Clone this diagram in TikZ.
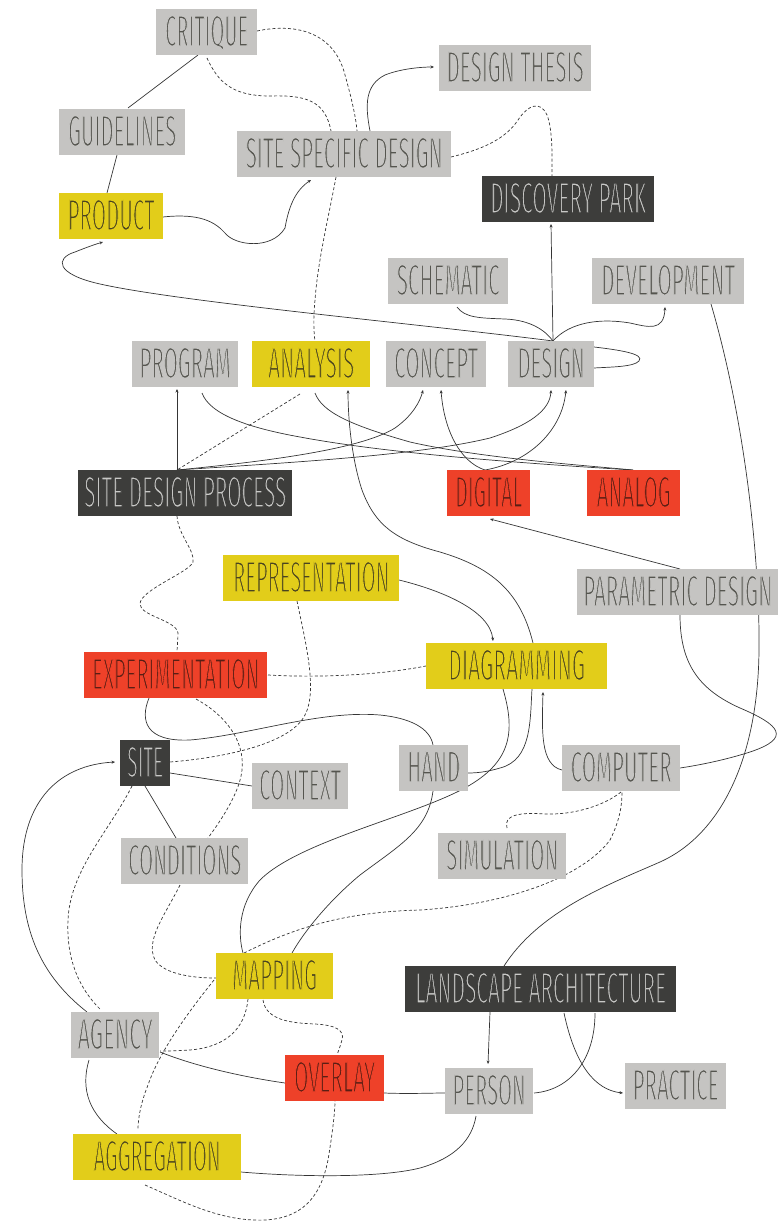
\documentclass[tikz,border=0pt]{standalone}
\usepackage{graphicx}
\usepackage{fontspec}
\usetikzlibrary{arrows.meta}
\newfontfamily\labfont{Fira Sans}
\definecolor{boxgray}{HTML}{C5C4C2}
\definecolor{boxyel}{HTML}{E2CD1A}
\definecolor{boxred}{HTML}{EE4129}
\definecolor{boxdark}{HTML}{3D3D3B}
\definecolor{txgray}{HTML}{55554F}
\definecolor{txyel}{HTML}{4A4420}
\definecolor{txred}{HTML}{5A1E14}
\definecolor{txdark}{HTML}{C8C8C6}
\definecolor{linec}{HTML}{353535}
\def\bgrgb{0.773 0.769 0.761}
\newcommand\lbl[2]{\resizebox{#1pt}{31pt}{\special{pdf:literal direct 2 Tr 0.42 w \bgrgb\space RG}\labfont #2\special{pdf:literal direct 0 Tr}}}
\pgfdeclarelayer{bg}
\pgfsetlayers{bg,main}
\tikzset{
  nd/.style={rectangle, inner sep=0pt, minimum height=46pt, anchor=north west, text height=31pt, text depth=3pt},
  gbox/.style={nd, fill=boxgray, text=txgray, execute at begin node={\def\bgrgb{0.773 0.769 0.761}}},
  ybox/.style={nd, fill=boxyel, text=txyel, execute at begin node={\def\bgrgb{0.886 0.804 0.102}}},
  rbox/.style={nd, fill=boxred, text=txred, execute at begin node={\def\bgrgb{0.933 0.255 0.161}}},
  dbox/.style={nd, fill=boxdark, text=txdark, execute at begin node={\def\bgrgb{0.239 0.239 0.231}}},
  con/.style={draw=linec, line width=0.7pt},
  dcon/.style={con, dash pattern=on 3pt off 2.2pt},
  arr/.style={-{Stealth[length=3.5pt,width=3pt]}}
}
\begin{document}
\begin{tikzpicture}[x=1pt,y=-1pt]
\useasboundingbox (0,0) rectangle (778,1222);
% nodes
\node[gbox, minimum width=101pt] (crit) at (156,9) {\lbl{83}{CRITIQUE}};
\node[gbox, minimum width=126pt] (guid) at (59,109) {\lbl{108}{GUIDELINES}};
\node[ybox, minimum width=104pt] (prod) at (59,193) {\lbl{87}{PRODUCT}};
\node[gbox, minimum width=214pt] (ssd) at (237,131) {\lbl{197}{SITE SPECIFIC DESIGN}};
\node[gbox, minimum width=152pt] (thesis) at (439,45) {\lbl{137}{DESIGN THESIS}};
\node[dbox, minimum width=172pt] (disc) at (482,176) {\lbl{156}{DISCOVERY PARK}};
\node[gbox, minimum width=120pt] (schem) at (388,258) {\lbl{103}{SCHEMATIC}};
\node[gbox, minimum width=152pt] (devel) at (592,258) {\lbl{134}{DEVELOPMENT}};
\node[gbox, minimum width=106pt] (prog) at (132,341) {\lbl{91}{PROGRAM}};
\node[ybox, minimum width=118pt] (anal) at (252,341) {\lbl{86}{ANALYSIS}};
\node[gbox, minimum width=100pt] (conc) at (386,341) {\lbl{84}{CONCEPT}};
\node[gbox, minimum width=86pt] (design) at (508,341) {\lbl{67}{DESIGN}};
\node[dbox, minimum width=214pt] (sdp) at (78,470) {\lbl{202}{SITE DESIGN PROCESS}};
\node[rbox, minimum width=83pt] (digit) at (447,470) {\lbl{67}{DIGITAL}};
\node[rbox, minimum width=93pt] (analog) at (587,470) {\lbl{74}{ANALOG}};
\node[ybox, minimum width=176pt] (repr) at (223,555) {\lbl{156}{REPRESENTATION}};
\node[gbox, minimum width=201pt] (param) at (577,569) {\lbl{189}{PARAMETRIC DESIGN}};
\node[rbox, minimum width=183pt] (expe) at (84,652) {\lbl{167}{EXPERIMENTATION}};
\node[ybox, minimum width=181pt] (diag) at (426,643) {\lbl{137}{DIAGRAMMING}};
\node[dbox, minimum width=50pt] (site) at (120,740) {\lbl{36}{SITE}};
\node[gbox, minimum width=96pt] (context) at (252,763) {\lbl{82}{CONTEXT}};
\node[gbox, minimum width=69pt] (hand) at (399,745) {\lbl{53}{HAND}};
\node[gbox, minimum width=118pt] (comp) at (562,745) {\lbl{101}{COMPUTER}};
\node[gbox, minimum width=128pt] (simul) at (438,833) {\lbl{112}{SIMULATION}};
\node[gbox, minimum width=127pt] (cond) at (121,838) {\lbl{113}{CONDITIONS}};
\node[ybox, minimum width=117pt] (mapp) at (216,953) {\lbl{85}{MAPPING}};
\node[dbox, minimum width=271pt] (land) at (405,966) {\lbl{251}{LANDSCAPE ARCHITECTURE}};
\node[gbox, minimum width=88pt] (agency) at (71,1012) {\lbl{75}{AGENCY}};
\node[rbox, minimum width=99pt] (overlay) at (285,1055) {\lbl{81}{OVERLAY}};
\node[gbox, minimum width=101pt] (practice) at (625,1063) {\lbl{86}{PRACTICE}};
\node[gbox, minimum width=88pt] (person) at (445,1068) {\lbl{73}{PERSON}};
\node[ybox, minimum width=168pt] (aggr) at (73,1134) {\lbl{127}{AGGREGATION}};

\begin{pgfonlayer}{bg}
% solid connectors
\draw[con] ([shift={(42,46)}]crit.north west) -- ([shift={(69,-1)}]guid.north west);
\draw[con] ([shift={(58,46)}]guid.north west) -- ([shift={(48,0)}]prod.north west);
\draw[con,arr] ([shift={(104,24)}]prod.north west) .. controls (200,213) and (215,222) .. (225,233)
   .. controls (235,246) and (272,250) .. (285,228) .. controls (289,205) and (296,190) .. ([shift={(74,49)}]ssd.north west);
\draw[con,arr] ([shift={(45,0)}]design.north west) .. controls (420,324) and (180,302) .. (100,284)
   .. controls (55,274) and (55,258) .. (75,252) .. controls (85,248) and (93,245) .. ([shift={(44,49)}]prod.north west);
\draw[con,arr] ([shift={(133,0)}]ssd.north west) .. controls (365,105) and (365,85) .. (385,75)
   .. controls (400,69) and (420,67) .. ([shift={(-5,22)}]thesis.north west);
\draw[con,arr] ([shift={(45,0)}]design.north west) -- ([shift={(69,48)}]disc.north west);
\draw[con] ([shift={(69,49)}]schem.north west) .. controls (465,318) and (480,318) .. (505,319)
   .. controls (530,320) and (545,330) .. ([shift={(45,0)}]design.north west);
\draw[con,arr] ([shift={(45,0)}]design.north west) .. controls (570,322) and (600,318) .. (630,323)
   .. controls (648,327) and (664,332) .. ([shift={(73,49)}]devel.north west);
\draw[con] ([shift={(86,6)}]design.north west) .. controls (620,350) and (645,354) .. (639,361)
   .. controls (634,367) and (610,367) .. ([shift={(86,27)}]design.north west);
\draw[con] ([shift={(119,46)}]devel.north west) .. controls (745,420) and (760,560) .. (759,650)
   .. controls (758,760) and (720,835) .. (660,862) .. controls (610,884) and (540,910) .. ([shift={(99,0)}]land.north west);
\draw[con,arr] ([shift={(99,0)}]sdp.north west) -- ([shift={(45,48)}]prog.north west);
\draw[con] ([shift={(70,52)}]prog.north west) .. controls (210,415) and (250,428) .. (300,437)
   .. controls (380,452) and (500,462) .. ([shift={(46,0)}]analog.north west);
\draw[con] ([shift={(63,52)}]anal.north west) .. controls (322,412) and (350,425) .. (410,442)
   .. controls (480,458) and (580,465) .. ([shift={(46,0)}]analog.north west);
\draw[con,arr] ([shift={(99,0)}]sdp.north west) .. controls (260,462) and (360,450) .. (395,428)
   .. controls (412,416) and (420,402) .. ([shift={(37,49)}]conc.north west);
\draw[con,arr] ([shift={(99,0)}]sdp.north west) .. controls (300,462) and (420,455) .. (490,438)
   .. controls (530,425) and (550,410) .. ([shift={(43,49)}]design.north west);
\draw[con,arr] ([shift={(38,0)}]digit.north west) .. controls (460,462) and (444,430) .. ([shift={(55,49)}]conc.north west);
\draw[con,arr] ([shift={(38,0)}]digit.north west) .. controls (530,462) and (562,430) .. ([shift={(58,49)}]design.north west);
\draw[con,arr] ([shift={(107,0)}]diag.north west) .. controls (520,590) and (490,567) .. (440,552)
   .. controls (395,540) and (375,525) .. (362,490) .. controls (352,460) and (348,420) .. ([shift={(96,49)}]anal.north west);
\draw[con,arr] ([shift={(103,0)}]param.north west) -- ([shift={(43,49)}]digit.north west);
\draw[con] ([shift={(103,46)}]param.north west) .. controls (680,665) and (700,690) .. (740,708)
   .. controls (780,725) and (792,738) .. (750,752) .. controls (725,760) and (700,765) .. ([shift={(118,23)}]comp.north west);
\draw[con,arr] ([shift={(176,25)}]repr.north west) .. controls (440,590) and (490,610) .. ([shift={(67,-2)}]diag.north west);
\draw[con] ([shift={(77,46)}]diag.north west) .. controls (515,730) and (512,760) .. (470,785)
   .. controls (420,815) and (300,840) .. (260,880) .. controls (238,905) and (238,935) .. ([shift={(27,0)}]mapp.north west);
\draw[con] ([shift={(106,46)}]diag.north west) .. controls (530,720) and (532,760) .. (500,768)
   .. controls (490,771) and (480,773) .. ([shift={(69,28)}]hand.north west);
\draw[con,arr] ([shift={(0,25)}]comp.north west) .. controls (540,765) and (542,730) .. ([shift={(117,49)}]diag.north west);
\draw[con] ([shift={(34,46)}]hand.north west) .. controls (428,830) and (400,845) .. (360,875)
   .. controls (330,900) and (305,930) .. ([shift={(76,0)}]mapp.north west);
\draw[con] ([shift={(65,46)}]expe.north west) .. controls (140,720) and (145,742) .. (190,740)
   .. controls (250,735) and (320,710) .. (380,715) .. controls (410,718) and (430,728) .. ([shift={(34,0)}]hand.north west);
\draw[con] ([shift={(50,33)}]site.north west) -- ([shift={(0,23)}]context.north west);
\draw[con] ([shift={(25,46)}]site.north west) -- ([shift={(55,0)}]cond.north west);
\draw[con,arr] ([shift={(16,0)}]agency.north west) .. controls (40,975) and (22,930) .. (22,870)
   .. controls (22,800) and (60,765) .. ([shift={(-5,22)}]site.north west);
\draw[con] ([shift={(89,40)}]agency.north west) .. controls (200,1068) and (250,1078) .. ([shift={(0,28)}]overlay.north west);
\draw[con] ([shift={(18,48)}]agency.north west) .. controls (80,1090) and (90,1115) .. ([shift={(44,0)}]aggr.north west);
\draw[con] ([shift={(99,38)}]overlay.north west) .. controls (410,1094) and (430,1093) .. ([shift={(0,25)}]person.north west);
\draw[con] ([shift={(168,38)}]aggr.north west) .. controls (300,1177) and (380,1178) .. (420,1168)
   .. controls (455,1158) and (472,1140) .. ([shift={(31,48)}]person.north west);
\draw[con,arr] ([shift={(85,46)}]land.north west) -- ([shift={(43,-4)}]person.north west);
\draw[con] ([shift={(190,47)}]land.north west) .. controls (595,1060) and (570,1090) .. ([shift={(89,25)}]person.north west);
\draw[con,arr] ([shift={(159,47)}]land.north west) .. controls (575,1065) and (595,1090) .. ([shift={(-2,30)}]practice.north west);
% dashed connectors
\draw[dcon] ([shift={(101,22)}]crit.north west) .. controls (300,22) and (335,35) .. (345,75)
   .. controls (352,100) and (356,118) .. ([shift={(120,0)}]ssd.north west);
\draw[dcon] ([shift={(51,49)}]crit.north west) .. controls (218,82) and (232,96) .. (270,96)
   .. controls (305,95) and (325,100) .. ([shift={(94,0)}]ssd.north west);
\draw[dcon] ([shift={(99,46)}]ssd.north west) .. controls (328,220) and (318,260) .. (315,300)
   .. controls (313,320) and (314,335) .. ([shift={(63,0)}]anal.north west);
\draw[dcon] ([shift={(214,26)}]ssd.north west) .. controls (480,150) and (505,140) .. (518,120)
   .. controls (528,105) and (540,100) .. (547,115) .. controls (553,130) and (552,160) .. ([shift={(70,0)}]disc.north west);
\draw[dcon] ([shift={(48,53)}]anal.north west) -- ([shift={(99,0)}]sdp.north west);
\draw[dcon] ([shift={(99,46)}]sdp.north west) .. controls (178,535) and (195,550) .. (193,562)
   .. controls (190,572) and (140,590) .. (140,604) .. controls (140,616) and (176,620) .. (178,633)
   .. controls (178,640) and (177,648) .. ([shift={(93,0)}]expe.north west);
\draw[dcon] ([shift={(184,23)}]expe.north west) .. controls (320,678) and (380,675) .. ([shift={(0,23)}]diag.north west);
\draw[dcon] ([shift={(74,46)}]repr.north west) .. controls (305,640) and (318,690) .. (305,715)
   .. controls (290,745) and (220,758) .. ([shift={(50,22)}]site.north west);
\draw[dcon] ([shift={(112,47)}]expe.north west) .. controls (225,715) and (245,740) .. (242,770)
   .. controls (240,790) and (225,815) .. ([shift={(87,0)}]cond.north west);
\draw[dcon] ([shift={(12,46)}]site.north west) .. controls (110,830) and (70,870) .. (68,920)
   .. controls (66,960) and (80,990) .. ([shift={(30,-2)}]agency.north west);
\draw[dcon] ([shift={(59,47)}]cond.north west) .. controls (165,915) and (145,940) .. (155,960)
   .. controls (165,975) and (195,978) .. ([shift={(0,25)}]mapp.north west);
\draw[dcon] ([shift={(28,0)}]mapp.north west) .. controls (290,930) and (340,912) .. (420,910)
   .. controls (500,905) and (580,880) .. (610,840) .. controls (620,820) and (622,805) .. ([shift={(60,47)}]comp.north west);
\draw[dcon] ([shift={(69,-5)}]simul.north west) .. controls (503,815) and (520,812) .. (545,814)
   .. controls (575,815) and (605,805) .. ([shift={(59,47)}]comp.north west);
\draw[dcon] ([shift={(32,46)}]mapp.north west) .. controls (245,1030) and (225,1047) .. (190,1050)
   .. controls (175,1051) and (165,1051) .. ([shift={(89,39)}]agency.north west);
\draw[dcon] ([shift={(47,47)}]mapp.north west) .. controls (266,1020) and (290,1023) .. (315,1024)
   .. controls (335,1025) and (345,1030) .. (342,1040) .. controls (340,1047) and (338,1052) .. ([shift={(52,0)}]overlay.north west);
\draw[dcon] ([shift={(-2,27)}]mapp.north west) .. controls (190,1010) and (160,1050) .. (148,1085)
   .. controls (140,1105) and (138,1120) .. ([shift={(65,-4)}]aggr.north west);
\draw[dcon] ([shift={(72,51)}]aggr.north west) .. controls (180,1200) and (220,1222) .. (265,1220)
   .. controls (300,1218) and (320,1200) .. (328,1160) .. controls (333,1130) and (335,1110) .. ([shift={(50,46)}]overlay.north west);
\end{pgfonlayer}
\end{tikzpicture}
\end{document}
